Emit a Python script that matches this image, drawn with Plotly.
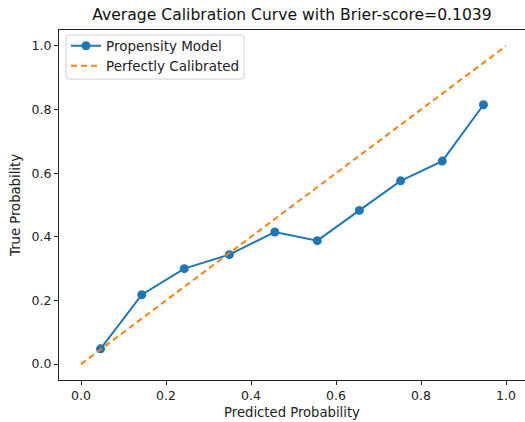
import plotly.graph_objects as go

# Calibration bins: mean predicted probability vs. observed fraction of positives
predicted_prob = [0.046, 0.143, 0.243, 0.349, 0.456, 0.556, 0.655, 0.752, 0.850, 0.947]
true_prob = [0.048, 0.218, 0.300, 0.344, 0.415, 0.388, 0.483, 0.576, 0.638, 0.815]

# Reference diagonal
diag_x = [0.0, 1.0]
diag_y = [0.0, 1.0]

brier_score = 0.1039
tick_vals = [0.0, 0.2, 0.4, 0.6, 0.8, 1.0]
tick_text = ["0.0", "0.2", "0.4", "0.6", "0.8", "1.0"]

FONT = "DejaVu Sans"
BLUE = "#1f77b4"
ORANGE = "#ff7f0e"
TEXT = "#222222"

W, H = 525, 422
ML, MR, MT, MB = 59, 0, 30, 42
PW, PH = W - ML - MR, H - MT - MB


def px_x(px):
    """Horizontal pixel -> paper fraction."""
    return (px - ML) / PW


def px_y(py):
    """Vertical pixel (from top) -> paper fraction."""
    return 1 - (py - MT) / PH


fig = go.Figure()
fig.add_trace(go.Scatter(
    x=predicted_prob, y=true_prob, mode="lines+markers",
    name="Propensity Model", legend="legend",
    line=dict(color=BLUE, width=2),
    marker=dict(color=BLUE, size=9),
))
fig.add_trace(go.Scatter(
    x=diag_x, y=diag_y, mode="lines",
    name="Perfectly Calibrated", legend="legend2",
    line=dict(color=ORANGE, width=2, dash="6px,4px"),
))

axis_common = dict(
    showgrid=False, zeroline=False,
    showline=True, linecolor=TEXT, linewidth=1,
    ticks="outside", ticklen=4, tickwidth=1, tickcolor=TEXT,
    tickvals=tick_vals, ticktext=tick_text,
    tickfont=dict(family=FONT, size=12.5, color=TEXT),
)

legend_common = dict(
    xanchor="left", yanchor="middle",
    bgcolor="rgba(0,0,0,0)", borderwidth=0,
    font=dict(family=FONT, size=13.5, color=TEXT),
    itemwidth=30,
)

# Rounded legend frame
x0, x1 = px_x(66), px_x(244)
y0, y1 = px_y(79), px_y(35)
rx, ry = 3 / PW, 3 / PH
frame_path = (
    f"M {x0 + rx},{y1} L {x1 - rx},{y1} Q {x1},{y1} {x1},{y1 - ry} "
    f"L {x1},{y0 + ry} Q {x1},{y0} {x1 - rx},{y0} "
    f"L {x0 + rx},{y0} Q {x0},{y0} {x0},{y0 + ry} "
    f"L {x0},{y1 - ry} Q {x0},{y1} {x0 + rx},{y1} Z"
)

fig.update_layout(
    width=W, height=H,
    margin=dict(l=ML, r=MR, t=MT, b=MB),
    paper_bgcolor="white", plot_bgcolor="white",
    font=dict(family=FONT, size=13, color=TEXT),
    title=dict(
        text=f"Average Calibration Curve with Brier-score={brier_score:.4f}",
        x=0.5, xref="paper", xanchor="center",
        y=1 - 15 / H, yref="container", yanchor="middle",
        font=dict(family=FONT, size=15.6, color="#111111"),
    ),
    xaxis=dict(
        range=[-22 / 425, 444 / 425], mirror=True,
        title=dict(text="Predicted Probability", standoff=5,
                   font=dict(family=FONT, size=13.2, color=TEXT)),
        **axis_common,
    ),
    yaxis=dict(
        range=[-0.05, 1.05], mirror=False,
        title=dict(text="True Probability", standoff=7,
                   font=dict(family=FONT, size=13.2, color=TEXT)),
        **axis_common,
    ),
    legend=dict(x=px_x(66), y=px_y(46), **legend_common),
    legend2=dict(x=px_x(66), y=px_y(66), **legend_common),
    shapes=[dict(
        type="path", xref="paper", yref="paper", path=frame_path,
        line=dict(color="#d0d0d0", width=1),
        fillcolor="rgba(255,255,255,0.8)", layer="above",
    )],
    showlegend=True,
)

fig.write_html("out.html")
